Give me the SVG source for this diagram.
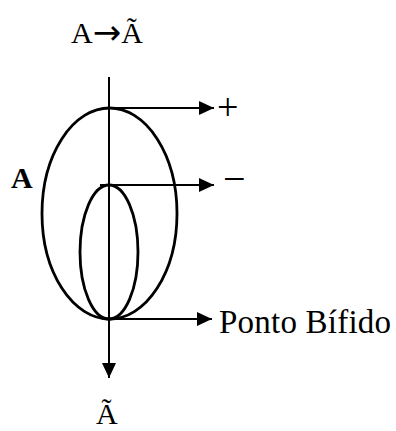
<svg xmlns="http://www.w3.org/2000/svg" width="396" height="431" viewBox="0 0 396 431">
<defs>
<marker id="ah" markerWidth="16" markerHeight="14" refX="15" refY="7" orient="auto" markerUnits="userSpaceOnUse">
<path d="M0,0 L15,7 L0,14 Z" fill="#000"/>
</marker>
<style>
.t{font-family:"Liberation Serif","Times New Roman",serif;fill:#000}
.ln{stroke:#000;stroke-width:2;fill:none}
.el{stroke:#000;stroke-width:2.8;fill:none}
</style>
</defs>
<rect width="396" height="431" fill="#fff"/>
<g id="shapes">
<ellipse id="outer" class="el" cx="109.5" cy="213.5" rx="67.5" ry="105.5"/>
<ellipse id="inner" class="el" cx="109" cy="252" rx="29" ry="67"/>
</g>
<g id="connectors">
<line class="ln" x1="109" y1="77" x2="109" y2="378" marker-end="url(#ah)"/>
<line class="ln" x1="109" y1="108" x2="214" y2="108" marker-end="url(#ah)"/>
<line class="ln" x1="100" y1="185" x2="214" y2="185" marker-end="url(#ah)"/>
<line class="ln" x1="109" y1="319" x2="212" y2="319" marker-end="url(#ah)"/>
</g>
<g id="labels">
<text class="t" x="71" y="43" font-size="30">A<tspan font-family="DejaVu Sans" font-size="34" dy="1">→</tspan><tspan dy="-1">Ã</tspan></text>
<text class="t" x="11" y="188" font-size="30" font-weight="bold">A</text>
<text class="t" x="217" y="120" font-size="38">+</text>
<text class="t" x="223" y="192" font-size="40">−</text>
<text class="t" x="219" y="333" font-size="33" textLength="172">Ponto Bífido</text>
<text class="t" x="96" y="424" font-size="30">Ã</text>
</g>
</svg>
